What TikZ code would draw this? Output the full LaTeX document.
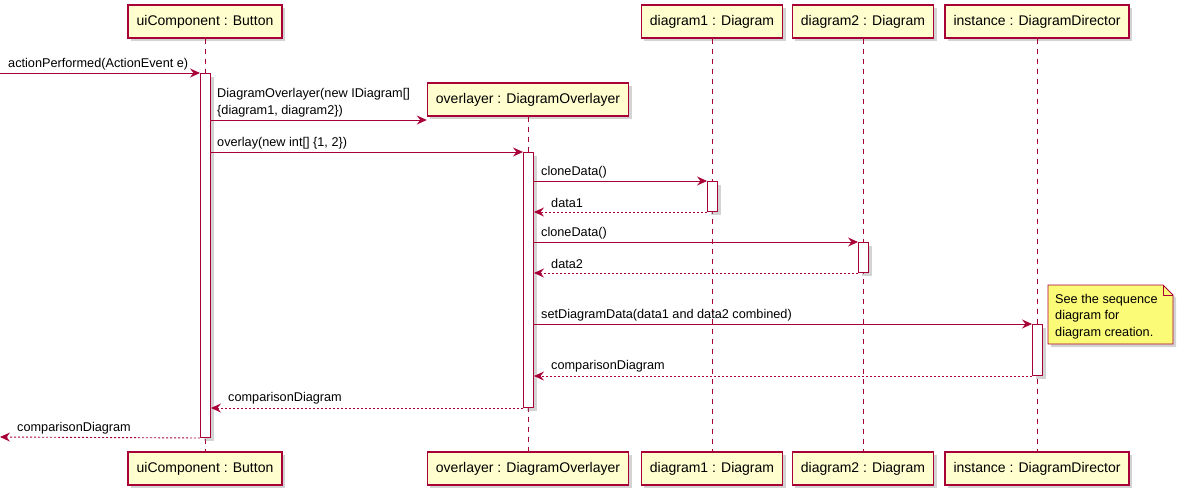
\documentclass[tikz,border=0pt]{standalone}
\usepackage{fontspec}
\setmainfont{Liberation Sans}
\usetikzlibrary{arrows.meta,positioning,shadows}

\definecolor{umlred}{HTML}{A80036}
\definecolor{umlfill}{HTML}{FEFECE}
\definecolor{notefill}{HTML}{FBFB77}

\tikzset{
  part/.style={draw=umlred, fill=umlfill, line width=1.3pt, minimum height=33pt, inner xsep=8.5pt,
    font=\fontsize{14}{16}\selectfont, drop shadow={opacity=0.35, shadow xshift=3pt, shadow yshift=-3pt}},
  life/.style={umlred, line width=0.9pt, dash pattern=on 5pt off 5pt},
  act/.style={draw=umlred, fill=white, line width=1pt, minimum width=10pt, inner sep=0pt,
    drop shadow={opacity=0.35, shadow xshift=3pt, shadow yshift=-3pt}},
  msg/.style={umlred, line width=0.9pt, -{Stealth[length=10pt, width=9pt, inset=3.5pt]}},
  ret/.style={msg, dash pattern=on 2pt off 2pt},
  lbl/.style={font=\fontsize{12.7}{17}\selectfont, text=black, inner sep=0pt, anchor=south west, align=left}
}

\begin{document}
\begin{tikzpicture}[x=1pt, y=-1pt]
\useasboundingbox (0,0) rectangle (1180,498);

% participants
\node[part] (ui)  at (205,21.5)   {uiComponent : Button};
\node[part] (ovl) at (528,99.5)   {overlayer : DiagramOverlayer};
\node[part] (d1)  at (712,21.5)   {diagram1 : Diagram};
\node[part] (d2)  at (863,21.5)   {diagram2 : Diagram};
\node[part] (dir) at (1037,21.5)  {instance : DiagramDirector};

\node[part] (uiB)  at (205,468.5)  {uiComponent : Button};
\node[part] (ovlB) at (528,468.5)  {overlayer : DiagramOverlayer};
\node[part] (d1B)  at (712,468.5)  {diagram1 : Diagram};
\node[part] (d2B)  at (863,468.5)  {diagram2 : Diagram};
\node[part] (dirB) at (1037,468.5) {instance : DiagramDirector};

\foreach \p in {ui, ovl, d1, d2, dir}
  \draw[life] (\p.south) -- (\p B.north);

% activations
\node[act, anchor=north, minimum height=364pt] (aUi)  at (205.5,73)  {};
\node[act, anchor=north, minimum height=255pt] (aOvl) at (528.5,152) {};
\node[act, anchor=north, minimum height=30pt]  (aD1)  at (712.5,181) {};
\node[act, anchor=north, minimum height=30pt]  (aD2)  at (863.5,242) {};
\node[act, anchor=north, minimum height=51pt]  (aDir) at (1037.5,324) {};

\coordinate (entry) at (0,73);
\coordinate (exit)  at (0,437);

% messages
\draw[msg] (entry) -- (aUi.north west);
\node[lbl] (m1) at (8,70) {actionPerformed(ActionEvent e)};

\draw[msg] (aUi.east |- 0,120) -- (ovl.west |- 0,120);
\node[lbl] (m2) at (217,117) {DiagramOverlayer(new IDiagram[]\\\{diagram1, diagram2\})};

\draw[msg] (aUi.east |- aOvl.north) -- (aOvl.north west);
\node[lbl] (m3) at (217,149) {overlay(new int[] \{1, 2\})};

\draw[msg] (aOvl.east |- aD1.north) -- (aD1.north west);
\node[lbl] (m4) at (541,178) {cloneData()};
\draw[ret] (aD1.south west) -- (aOvl.east |- aD1.south);
\node[lbl] (m5) at (551,208) {data1};

\draw[msg] (aOvl.east |- aD2.north) -- (aD2.north west);
\node[lbl] (m6) at (541,239) {cloneData()};
\draw[ret] (aD2.south west) -- (aOvl.east |- aD2.south);
\node[lbl] (m7) at (551,269) {data2};

\draw[msg] (aOvl.east |- aDir.north) -- (aDir.north west);
\node[lbl] (m8) at (541,321) {setDiagramData(data1 and data2 combined)};
\draw[ret] (aDir.south west) -- (aOvl.east |- aDir.south);
\node[lbl] (m9) at (551,372) {comparisonDiagram};

\draw[ret] (aOvl.south west) -- (aUi.east |- aOvl.south);
\node[lbl] (m10) at (228,404) {comparisonDiagram};

\draw[ret] (aUi.south west) -- (exit);
\node[lbl] (m11) at (17,434) {comparisonDiagram};

% note
\filldraw[draw=umlred, fill=notefill, line width=0.9pt, drop shadow={opacity=0.35, shadow xshift=3pt, shadow yshift=-3pt}]
  (1048,285) -- (1163,285) -- (1173,295) -- (1173,344) -- (1048,344) -- cycle;
\draw[umlred, line width=0.9pt] (1163,285) -- (1163,295) -- (1173,295);
\node[lbl, anchor=north west, font=\fontsize{12.7}{16.5}\selectfont] (note) at (1055,294) {See the sequence\\diagram for\\diagram creation.};
\end{tikzpicture}
\end{document}
